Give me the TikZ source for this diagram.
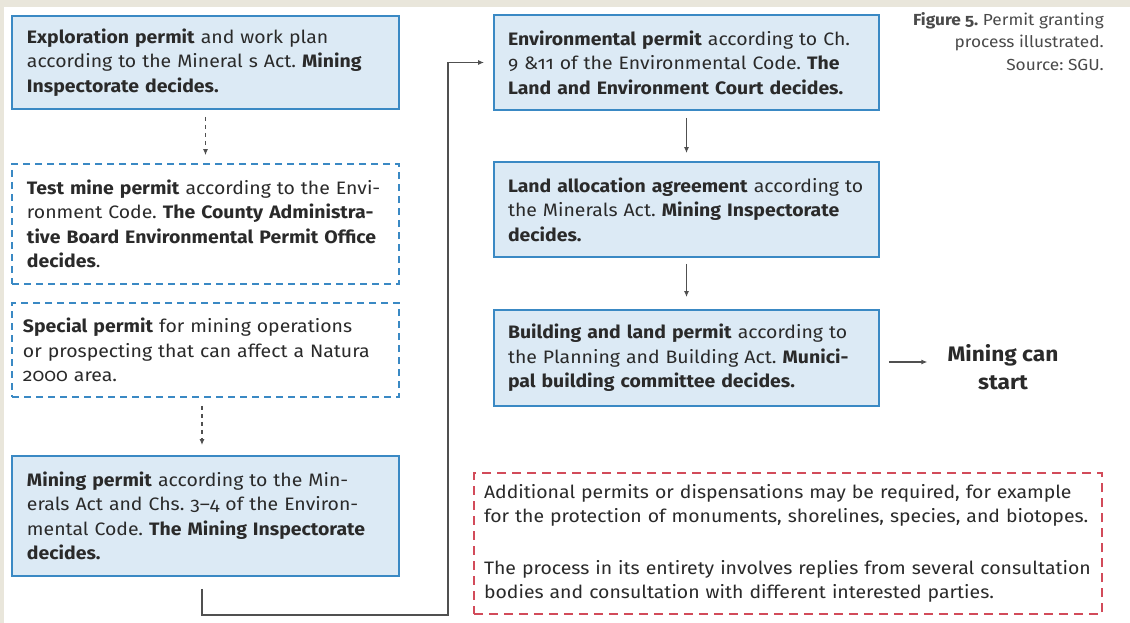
\documentclass[tikz,border=0pt]{standalone}
\usepackage{fontspec}
\setmainfont{Fira Sans}[FakeStretch=1.08, Numbers=OldStyle]
\usetikzlibrary{arrows.meta}
\definecolor{boxblue}{HTML}{3A89C4}
\definecolor{boxfill}{HTML}{DCEAF5}
\definecolor{redd}{HTML}{D24B5A}
\definecolor{beige}{HTML}{E9E6DB}
\definecolor{txt}{HTML}{2A2A2A}
\definecolor{capgrey}{HTML}{4A4A4A}
\definecolor{conn}{HTML}{505050}
\newcommand\boxfont{\frenchspacing\fontsize{18}{24.5}\selectfont}
\newcommand\capfont{\frenchspacing\fontsize{16}{22.5}\selectfont}
\newcommand\startfont{\fontsize{21}{28}\selectfont\bfseries}
\tikzset{
  permit/.style={draw=boxblue, line width=1.8pt, fill=boxfill, minimum width=387pt,
    text width=357pt, inner xsep=15pt, inner ysep=0pt, align=left, text=txt, font=\boxfont},
  dashbox/.style={permit, fill=white, dash pattern=on 7pt off 5pt, line width=1.6pt},
  rightbox/.style={permit, minimum width=385pt, text width=357pt, inner xsep=14pt},
  notebox/.style={draw=redd, line width=1.6pt, dash pattern=on 9pt off 6pt, fill=white,
    minimum width=628pt, text width=608pt, inner xsep=10pt, inner ysep=0pt,
    align=left, text=txt, font=\boxfont},
  arr/.style={-{Latex[length=6pt,width=5pt]}, draw=conn, line width=1.3pt},
  dasharr/.style={arr, dash pattern=on 4pt off 4pt},
}
\begin{document}
\begin{tikzpicture}[x=1pt,y=-1pt]
\useasboundingbox (0,0) rectangle (1130,623);
\fill[white] (0,0) rectangle (1130,623);
\fill[beige] (0,0) rectangle (1130,7);
\fill[beige] (0,0) rectangle (4,623);

\node[permit, minimum height=93pt] (b1) at (205.5,62.5)
  {\textbf{Exploration permit} and work plan\\according to the Mineral s Act. \textbf{Mining}\\\textbf{Inspectorate decides.}};
\node[dashbox, minimum height=120pt] (b2) at (205.5,224)
  {\textbf{Test mine permit} according to the Envi-\\ronment Code. \textbf{The County Administra-}\\\textbf{tive Board Environmental Permit Office}\\\textbf{decides}.};
\node[dashbox, minimum height=94pt, inner xsep=11pt, text width=365pt] (b3) at (205.5,350)
  {\textbf{Special permit} for mining operations\\or prospecting that can affect a Natura\\2000 area.};
\node[permit, minimum height=120pt] (b4) at (205.5,516)
  {\textbf{Mining permit} according to the Min-\\erals Act and Chs. 3–4 of the Environ-\\mental Code. \textbf{The Mining Inspectorate}\\\textbf{decides.}};

\node[rightbox, minimum height=95pt] (b5) at (686.5,62.5)
  {\textbf{Environmental permit} according to Ch.\\9 \&11 of the Environmental Code. \textbf{The}\\\textbf{Land and Environment Court decides.}};
\node[rightbox, minimum height=95pt] (b6) at (686.5,209.5)
  {\textbf{Land allocation agreement} according to\\the Minerals Act. \textbf{Mining Inspectorate}\\\textbf{decides.}};
\node[rightbox, minimum height=96pt] (b7) at (686.5,358)
  {\textbf{Building and land permit} according to\\the Planning and Building Act. \textbf{Munici-}\\\textbf{pal building committee decides.}};

\node[align=center, font=\startfont, text=txt, inner sep=0pt] (ms) at (1003,367) {Mining can\\start};

\node[anchor=north east, align=right, font=\capfont, text=capgrey, inner sep=0pt] (cap) at (1104,12)
  {\textbf{Figure 5.} Permit granting\\process illustrated.\\Source: SGU.};

\node[notebox, minimum height=141pt] (note) at (788,543.5)
  {Additional permits or dispensations may be required, for example\\for the protection of monuments, shorelines, species, and biotopes.\\[27pt]The process in its entirety involves replies from several consultation\\bodies and consultation with different interested parties.};

\draw[dasharr] ([yshift=-7pt]b1.south) -- ([yshift=8pt]b2.north);
\draw[dasharr] ([xshift=-3.5pt,yshift=-8pt]b3.south) -- ([xshift=-3.5pt,yshift=10pt]b4.north);
\draw[arr] ([yshift=-7pt]b5.south) -- ([yshift=8pt]b6.north);
\draw[arr] ([yshift=-6pt]b6.south) -- ([yshift=12pt]b7.north);
\draw[arr] ([xshift=9pt,yshift=-4pt]b7.east) -- ([xshift=-20pt,yshift=5pt]ms.west);
\coordinate (c1) at (448,615);
\draw[arr] ([xshift=-3.5pt,yshift=-12pt]b4.south) |- (c1) |- ([xshift=-9pt]b5.west);
\end{tikzpicture}
\end{document}
